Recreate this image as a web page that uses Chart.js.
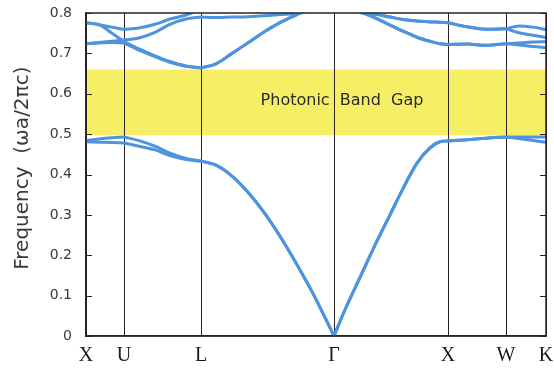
<!DOCTYPE html>
<html>
<head>
<meta charset="utf-8">
<script src="https://cdn.jsdelivr.net/npm/chart.js@4.4.1/dist/chart.umd.min.js"></script>
<style>
  html, body { margin: 0; padding: 0; background: #fff; }
</style>
</head>
<body>
<canvas id="chart" width="554" height="372"></canvas>
<script>
// symmetry points along the k-path
const kPoints = [0, 38, 115, 248, 362, 420, 460];
const kLabels = ["X", "U", "L", "Γ", "X", "W", "K"];

// y axis
const yTicks = [0, 0.1, 0.2, 0.3, 0.4, 0.5, 0.6, 0.7, 0.8];
const yTickLabels = ["0", "0.1", "0.2", "0.3", "0.4", "0.5", "0.6", "0.7", "0.8"];

// band gap
const gapBottom = 0.497;
const gapTop = 0.66;
const gapLabel = "Photonic  Band  Gap";

// sample positions shared by every band
const kPath = [0, 13, 26, 38, 53, 69, 84, 100, 115, 130, 146, 162, 178, 194, 210, 226, 238, 248,
  259, 274, 289, 304, 317, 331, 344, 354, 362, 381, 400, 420, 433, 447, 460];

// frequencies (ωa/2πc); values above 0.8 leave the frame
const band1 = [0.484, 0.488, 0.491, 0.493, 0.484, 0.470, 0.453, 0.440, 0.433,
  0.423, 0.396, 0.356, 0.306, 0.247, 0.181, 0.110, 0.051, 0,
  0.065, 0.145, 0.225, 0.300, 0.365, 0.428, 0.466, 0.481, 0.483,
  0.486, 0.490, 0.493, 0.493, 0.493, 0.493];
const band2 = [0.481, 0.480, 0.479, 0.478, 0.470, 0.461, 0.447, 0.437, 0.433,
  0.423, 0.396, 0.356, 0.306, 0.247, 0.181, 0.110, 0.051, 0,
  0.065, 0.145, 0.225, 0.300, 0.365, 0.428, 0.466, 0.481, 0.483,
  0.486, 0.490, 0.493, 0.489, 0.484, 0.480];
const band3 = [0.776, 0.771, 0.765, 0.759, 0.763, 0.772, 0.785, 0.795, 0.81,
  0.84, 0.86, 0.87, 0.88, 0.89, 0.90, 0.90, 0.90, 0.90,
  0.85, 0.802, 0.797, 0.790, 0.784, 0.780, 0.778, 0.777, 0.776,
  0.766, 0.760, 0.761, 0.768, 0.765, 0.759];
const band4 = [0.724, 0.727, 0.730, 0.733, 0.738, 0.752, 0.772, 0.785, 0.790,
  0.789, 0.790, 0.791, 0.793, 0.796, 0.799, 0.806, 0.815, 0.83,
  0.85, 0.802, 0.797, 0.790, 0.784, 0.780, 0.778, 0.777, 0.776,
  0.766, 0.760, 0.761, 0.751, 0.745, 0.739];
const band5 = [0.776, 0.771, 0.750, 0.729, 0.711, 0.694, 0.680, 0.669, 0.664,
  0.674, 0.700, 0.726, 0.753, 0.776, 0.795, 0.813, 0.83, 0.84,
  0.84, 0.805, 0.788, 0.770, 0.755, 0.740, 0.730, 0.724, 0.722,
  0.723, 0.720, 0.724, 0.726, 0.728, 0.729];
const band6 = [0.724, 0.726, 0.727, 0.726, 0.708, 0.692, 0.678, 0.668, 0.664,
  0.674, 0.700, 0.726, 0.753, 0.776, 0.795, 0.813, 0.83, 0.84,
  0.84, 0.805, 0.788, 0.770, 0.755, 0.740, 0.730, 0.724, 0.722,
  0.723, 0.720, 0.724, 0.721, 0.717, 0.714];

const bands = [band1, band2, band3, band4, band5, band6];
const lineColor = "#4d93dd";
const frameColor = "#2b2323";

// one dataset per band and per path segment, so kinks stay sharp at symmetry points
const datasets = [];
bands.forEach(b => {
  for (let j = 0; j < kPoints.length - 1; j++) {
    const pts = [];
    kPath.forEach((k, i) => {
      if (k >= kPoints[j] && k <= kPoints[j + 1]) pts.push({ x: k, y: b[i] });
    });
    datasets.push({
      data: pts,
      borderColor: lineColor,
      borderWidth: 3,
      pointRadius: 0,
      fill: false,
      cubicInterpolationMode: "monotone",
      clip: { left: 0, top: 0, right: 0, bottom: 3 }
    });
  }
});

// yellow gap + its label, under the grid lines
const bandGapPlugin = {
  id: "bandGap",
  beforeDraw(chart) {
    const { ctx, chartArea: a, scales: { x, y } } = chart;
    const top = y.getPixelForValue(gapTop);
    const bottom = y.getPixelForValue(gapBottom);
    ctx.save();
    ctx.fillStyle = "#f6ef66";
    ctx.fillRect(a.left, top, a.right - a.left, bottom - top);
    ctx.font = "16px 'DejaVu Sans'";
    ctx.fillStyle = "#2a2a2a";
    ctx.textAlign = "center";
    ctx.textBaseline = "middle";
    ctx.fillText(gapLabel, x.getPixelForValue(256), (top + bottom) / 2 - 2);
    ctx.restore();
  }
};

// box round the plot and inward ticks on both sides
const framePlugin = {
  id: "frame",
  afterDraw(chart) {
    const { ctx, chartArea: a, scales: { y } } = chart;
    ctx.save();
    ctx.strokeStyle = frameColor;
    ctx.lineWidth = 1.5;
    ctx.strokeRect(a.left, a.top, a.right - a.left, a.bottom - a.top);
    ctx.lineWidth = 1;
    y.ticks.forEach(t => {
      const py = Math.round(y.getPixelForValue(t.value)) + 0.5;
      ctx.beginPath();
      ctx.moveTo(a.left, py);
      ctx.lineTo(a.left + 6, py);
      ctx.moveTo(a.right, py);
      ctx.lineTo(a.right - 6, py);
      ctx.stroke();
    });
    ctx.restore();
  }
};

const ctx = document.getElementById("chart");

new Chart(ctx, {
  type: "line",
  data: { datasets },
  options: {
    responsive: false,
    animation: false,
    layout: { padding: { top: 13, right: 8, left: 0, bottom: 0 } },
    plugins: {
      legend: { display: false },
      tooltip: { enabled: false }
    },
    scales: {
      x: {
        type: "linear",
        min: 0,
        max: 460,
        afterBuildTicks: s => { s.ticks = kPoints.map(v => ({ value: v })); },
        afterFit: s => {
          s.height = 36;
          s.paddingLeft = 0;
          s.paddingRight = 0;
        },
        ticks: {
          autoSkip: false,
          maxRotation: 0,
          padding: 8,
          color: "#1a1a1a",
          font: { family: "'Liberation Serif'", size: 20 },
          callback: (v, i) => kLabels[i]
        },
        grid: { color: frameColor, lineWidth: 1, drawTicks: false },
        border: { color: frameColor, width: 1.5 }
      },
      y: {
        min: 0,
        max: 0.8,
        afterBuildTicks: s => { s.ticks = yTicks.map(v => ({ value: v })); },
        afterFit: s => {
          s.width = 86;
          s.paddingTop = 0;
          s.paddingBottom = 0;
        },
        ticks: {
          padding: 14,
          color: "#3a3a3a",
          font: { family: "'DejaVu Sans'", size: 14 },
          callback: (v, i) => yTickLabels[i]
        },
        grid: { display: false, drawTicks: false },
        border: { color: frameColor, width: 1.5 },
        title: {
          display: true,
          text: "  Frequency  (ωa/2πc)",
          color: "#3a3a3a",
          font: { family: "'DejaVu Sans'", size: 20 },
          padding: { top: 11 }
        }
      }
    }
  },
  plugins: [bandGapPlugin, framePlugin]
});
</script>
</body>
</html>
